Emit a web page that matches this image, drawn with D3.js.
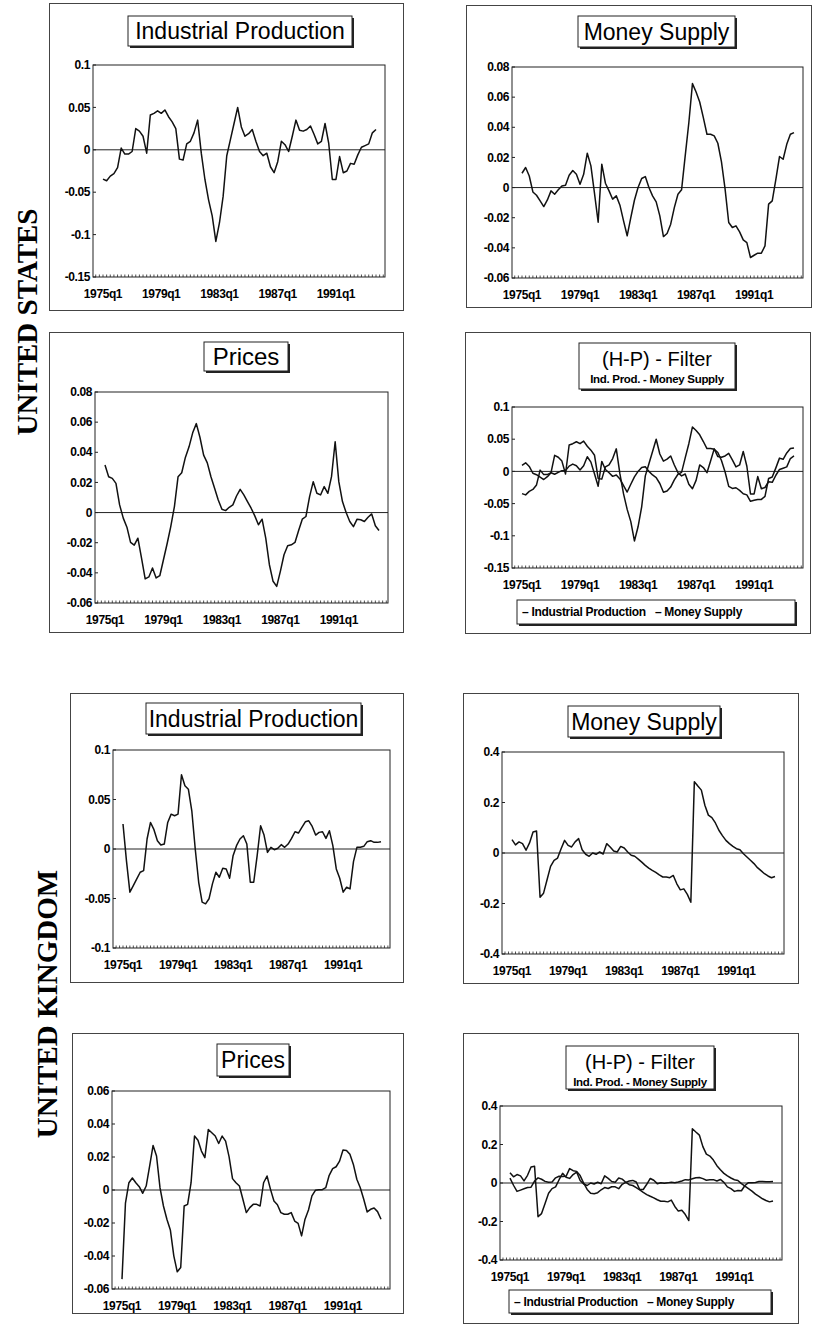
<!DOCTYPE html>
<html>
<head>
<meta charset="utf-8">
<script src="https://cdn.jsdelivr.net/npm/d3@7"></script>
<style>
  body { margin: 0; background: #fff; }
  svg { display: block; }
</style>
</head>
<body>
<div id="chart"></div>
<script>
// Quarterly observations 1975q1 .. 1993q4 (76 quarters)
const quarters = d3.range(1975, 1994).flatMap(y => [1, 2, 3, 4].map(q => y + "q" + q));
const xTickLabels = ["1975q1", "1979q1", "1983q1", "1987q1", "1991q1"];

// United States, H-P filtered cycles
const usIP = [-0.0345, -0.0365, -0.031, -0.028, -0.021, 0.002, -0.005, -0.005, -0.002, 0.025,
  0.022, 0.016, -0.004, 0.041, 0.043, 0.046, 0.043, 0.047, 0.039, 0.033,
  0.025, -0.011, -0.012, 0.007, 0.010, 0.020, 0.035, -0.004, -0.035, -0.059,
  -0.078, -0.108, -0.086, -0.055, -0.007, 0.012, 0.031, 0.050, 0.027, 0.016,
  0.019, 0.024, 0.010, -0.002, -0.007, -0.004, -0.020, -0.027, -0.014, 0.010,
  0.006, -0.002, 0.016, 0.035, 0.023, 0.022, 0.024, 0.028, 0.018, 0.007,
  0.010, 0.031, 0.008, -0.035, -0.035, -0.008, -0.027, -0.025, -0.016, -0.017,
  -0.006, 0.003, 0.005, 0.007, 0.020, 0.024];
const usMS = [0.0095, 0.0133, 0.0077, -0.0029, -0.0051, -0.0088, -0.0126, -0.0082, -0.0022, -0.0044,
  -0.0015, 0.0011, 0.0015, 0.0082, 0.0113, 0.0088, 0.0022, 0.0088, 0.0228, 0.0144,
  -0.004, -0.023, 0.0155, 0.0029, -0.0022, -0.0077, -0.0055, -0.0117, -0.0221, -0.032,
  -0.0199, -0.0084, 0.000, 0.006, 0.0073, 0.0, -0.0055, -0.0095, -0.0188, -0.0325,
  -0.0305, -0.0243, -0.0133, -0.0044, -0.0015, 0.021, 0.043, 0.069, 0.0634, 0.0568,
  0.0464, 0.0354, 0.0354, 0.0343, 0.0294, 0.017, -0.001, -0.0232, -0.0265, -0.0254,
  -0.0294, -0.0347, -0.0365, -0.0464, -0.0449, -0.0435, -0.0435, -0.0387, -0.011, -0.0088,
  0.0055, 0.0206, 0.0188, 0.0287, 0.0354, 0.0365];
const usPrices = [0.0315, 0.0238, 0.0227, 0.0194, 0.0051, -0.0037, -0.0097, -0.0198, -0.0216, -0.017,
  -0.0302, -0.044, -0.0427, -0.0368, -0.0434, -0.0419, -0.0313, -0.0207, -0.0093, 0.004,
  0.0238, 0.0264, 0.0366, 0.0436, 0.0529, 0.059, 0.0498, 0.0381, 0.033, 0.0238,
  0.0161, 0.0084, 0.0022, 0.0013, 0.0035, 0.0051, 0.011, 0.0154, 0.0117, 0.0073,
  0.0029, -0.0022, -0.0081, -0.0044, -0.017, -0.0346, -0.0456, -0.049, -0.039, -0.028,
  -0.022, -0.0214, -0.0198, -0.0119, -0.0044, -0.0026, 0.0106, 0.0205, 0.0128, 0.0117,
  0.0172, 0.0128, 0.0238, 0.047, 0.0205, 0.0073, 0, -0.0059, -0.0093, -0.0044,
  -0.0048, -0.0059, -0.0031, -0.0009, -0.0088, -0.0119];

// United Kingdom
const ukIP = [0.0252, -0.0117, -0.0436, -0.0369, -0.0302, -0.0235, -0.0218, 0.0101, 0.0268, 0.0195,
  0.0084, 0.004, 0.005, 0.0268, 0.0352, 0.0336, 0.0352, 0.075, 0.0638, 0.0604,
  0.0386, 0, -0.0336, -0.0537, -0.0554, -0.0503, -0.0352, -0.0235, -0.0285, -0.0195,
  -0.0201, -0.0295, -0.0067, 0.0034, 0.0101, 0.0134, 0.005, -0.0336, -0.0336, -0.0067,
  0.0235, 0.0141, -0.0034, 0.0017, -0.0007, 0.0007, 0.0044, 0.0017, 0.005, 0.0107,
  0.0174, 0.0161, 0.0218, 0.0275, 0.0285, 0.0228, 0.0141, 0.0168, 0.0174, 0.0107,
  0.0185, 0.0034, -0.0201, -0.0295, -0.0436, -0.0386, -0.0403, -0.0128, 0.0017, 0.0017,
  0.0027, 0.0074, 0.0084, 0.0067, 0.0067, 0.0074];
const ukMS = [0.053, 0.032, 0.044, 0.037, 0.011, 0.040, 0.083, 0.087, -0.175, -0.159,
  -0.106, -0.053, -0.029, -0.020, 0.017, 0.050, 0.030, 0.024, 0.044, 0.057,
  0.013, -0.005, -0.013, 0.000, -0.005, 0.004, -0.004, 0.037, 0.024, 0.008,
  0.004, 0.026, 0.020, 0.004, -0.009, -0.013, -0.024, -0.036, -0.049, -0.060,
  -0.069, -0.077, -0.087, -0.095, -0.095, -0.098, -0.089, -0.122, -0.146, -0.142,
  -0.164, -0.195, 0.282, 0.265, 0.249, 0.189, 0.150, 0.140, 0.119, 0.090,
  0.069, 0.050, 0.037, 0.026, 0.017, 0.013, -0.003, -0.016, -0.029, -0.042,
  -0.058, -0.070, -0.082, -0.091, -0.098, -0.093];
const ukPrices = [-0.054, -0.008, 0.0044, 0.0073, 0.0044, 0.002, -0.002, 0.0024, 0.0145, 0.027,
  0.0206, 0.0014, -0.0097, -0.0177, -0.0242, -0.0399, -0.0496, -0.047, -0.0097, -0.0087,
  0.0044, 0.0327, 0.0302, 0.0236, 0.0196, 0.0367, 0.0347, 0.0327, 0.0282, 0.0327,
  0.0296, 0.0202, 0.0069, 0.0044, 0.0024, -0.0056, -0.0137, -0.0107, -0.0087, -0.0087,
  -0.0097, 0.0044, 0.0085, 0.0004, -0.0067, -0.0089, -0.0137, -0.0147, -0.0147, -0.0137,
  -0.0188, -0.0202, -0.0278, -0.0177, -0.0121, -0.0036, -0.0002, 0.0002, 0.0002, 0.0014,
  0.0089, 0.0129, 0.0141, 0.0175, 0.0242, 0.024, 0.0216, 0.0155, 0.0065, 0.0014,
  -0.0056, -0.0133, -0.0117, -0.0109, -0.0131, -0.0177];

// y-axis ticks
const ticksUSIP = [-0.15, -0.1, -0.05, 0, 0.05, 0.1];
const ticksUSSmall = [-0.06, -0.04, -0.02, 0, 0.02, 0.04, 0.06, 0.08];
const ticksUKIP = [-0.1, -0.05, 0, 0.05, 0.1];
const ticksUKMS = [-0.4, -0.2, 0, 0.2, 0.4];
const ticksUKPrices = [-0.06, -0.04, -0.02, 0, 0.02, 0.04, 0.06];

const hpSubtitle = "Ind. Prod. - Money Supply";
const hpLegend = ["Industrial Production", "Money Supply"];

// layout of the eight panels: [x, y, w, h]
const panels = [
  { box: [49, 3, 354, 307], plot: [93, 65, 292, 212], title: "Industrial Production", tb: [128, 16, 224, 30], fs: 23, ticks: ticksUSIP, series: [usIP] },
  { box: [466, 5, 345, 302], plot: [512, 67, 291, 211], title: "Money Supply", tb: [578, 16, 157, 31], fs: 23, ticks: ticksUSSmall, series: [usMS] },
  { box: [49, 332, 354, 300], plot: [95, 392, 293, 211], title: "Prices", tb: [204, 342, 84, 29], fs: 24, ticks: ticksUSSmall, series: [usPrices] },
  { box: [465, 332, 345, 301], plot: [512, 407, 291, 161], title: "(H-P) - Filter", sub: hpSubtitle, tb: [579, 343, 156, 46], fs: 20, ticks: ticksUSIP, series: [usIP, usMS], legend: [517, 600, 278, 24] },
  { box: [70, 693, 333, 289], plot: [113, 750, 277, 198], title: "Industrial Production", tb: [146, 703, 215, 31], fs: 23, ticks: ticksUKIP, series: [ukIP] },
  { box: [463, 693, 335, 290], plot: [502, 752, 282, 202], title: "Money Supply", tb: [568, 706, 152, 31], fs: 23, ticks: ticksUKMS, series: [ukMS] },
  { box: [72, 1033, 331, 280], plot: [112, 1091, 278, 198], title: "Prices", tb: [217, 1044, 72, 32], fs: 23, ticks: ticksUKPrices, series: [ukPrices] },
  { box: [463, 1033, 335, 290], plot: [500, 1106, 282, 154], title: "(H-P) - Filter", sub: hpSubtitle, tb: [566, 1046, 148, 43], fs: 20, ticks: ticksUKMS, series: [ukIP, ukMS], legend: [509, 1290, 262, 23] }
];

const sans = "'Liberation Sans', Arial, Helvetica, sans-serif";
const fmt = v => String(+v.toFixed(2));

const svg = d3.select("#chart").append("svg")
  .attr("width", 820)
  .attr("height", 1334);

// country labels
svg.append("text")
  .attr("transform", "translate(27,322) rotate(-90)")
  .attr("text-anchor", "middle").attr("dy", "0.35em")
  .style("font-family", "'Liberation Serif', 'Times New Roman', serif")
  .style("font-weight", "bold").style("font-size", "29px")
  .text("UNITED STATES");
svg.append("text")
  .attr("transform", "translate(47,1004) rotate(-90)")
  .attr("text-anchor", "middle").attr("dy", "0.35em")
  .style("font-family", "'Liberation Serif', 'Times New Roman', serif")
  .style("font-weight", "bold").style("font-size", "29px")
  .text("UNITED KINGDOM");

function shadowBox(g, x, y, w, h) {
  g.append("rect").attr("x", x + 2).attr("y", y + 2).attr("width", w).attr("height", h).attr("fill", "#222");
  g.append("rect").attr("x", x).attr("y", y).attr("width", w).attr("height", h)
    .attr("fill", "#fff").attr("stroke", "#222").attr("stroke-width", 1);
}

panels.forEach(p => {
  const g = svg.append("g");
  const [bx, by, bw, bh] = p.box;
  const [px, py, pw, ph] = p.plot;

  // outer frame
  g.append("rect").attr("x", bx + 0.5).attr("y", by + 0.5).attr("width", bw).attr("height", bh)
    .attr("fill", "none").attr("stroke", "#444").attr("stroke-width", 1);

  // title box
  const [tx, ty, tw, th] = p.tb;
  shadowBox(g, tx, ty, tw, th);
  if (p.sub) {
    g.append("text").attr("x", tx + tw / 2).attr("y", ty + 23)
      .attr("text-anchor", "middle")
      .style("font-family", sans).style("font-size", p.fs + "px")
      .text(p.title);
    g.append("text").attr("x", tx + tw / 2).attr("y", ty + 40)
      .attr("text-anchor", "middle")
      .style("font-family", sans).style("font-size", "11.5px").style("font-weight", "bold")
      .style("letter-spacing", "-0.3px")
      .text(p.sub);
  } else {
    g.append("text").attr("x", tx + tw / 2).attr("y", ty + th / 2).attr("dy", "0.36em")
      .attr("text-anchor", "middle")
      .style("font-family", sans).style("font-size", p.fs + "px")
      .text(p.title);
  }

  // scales
  const x = d3.scaleLinear().domain([0, quarters.length - 1]).range([px + 10, px + pw - 9]);
  const y = d3.scaleLinear().domain(d3.extent(p.ticks)).range([py + ph, py]);

  // plot frame
  g.append("rect").attr("x", px).attr("y", py).attr("width", pw).attr("height", ph)
    .attr("fill", "none").attr("stroke", "#222").attr("stroke-width", 1);

  // y ticks (inward) and labels
  g.selectAll(null).data(p.ticks).enter().append("line")
    .attr("x1", px).attr("x2", px + 3)
    .attr("y1", d => y(d)).attr("y2", d => y(d))
    .attr("stroke", "#222");
  g.selectAll(null).data(p.ticks).enter().append("text")
    .attr("x", px - 3).attr("y", d => y(d)).attr("dy", "0.35em")
    .attr("text-anchor", "end")
    .style("font-family", sans).style("font-size", "12px").style("font-weight", "bold")
    .style("letter-spacing", "-0.4px")
    .text(fmt);

  // quarterly minor ticks along the bottom axis
  const minor = d3.range(-2, quarters.length + 2).filter(i => x(i) > px + 1 && x(i) < px + pw - 1);
  g.selectAll(null).data(minor).enter().append("line")
    .attr("x1", d => x(d)).attr("x2", d => x(d))
    .attr("y1", py + ph).attr("y2", py + ph - 2.5)
    .attr("stroke", "#222").attr("stroke-width", 0.8);

  // x labels
  g.selectAll(null).data(xTickLabels).enter().append("text")
    .attr("x", d => x(quarters.indexOf(d))).attr("y", py + ph + 21)
    .attr("text-anchor", "middle")
    .style("font-family", sans).style("font-size", "12px").style("font-weight", "bold")
    .style("letter-spacing", "-0.4px")
    .text(d => d);

  // zero line
  g.append("line").attr("x1", px).attr("x2", px + pw)
    .attr("y1", y(0)).attr("y2", y(0))
    .attr("stroke", "#222").attr("stroke-width", 1);

  // series
  const line = d3.line().x((d, i) => x(i)).y(d => y(d));
  p.series.forEach(s => {
    g.append("path").datum(s).attr("d", line)
      .attr("fill", "none").attr("stroke", "#111").attr("stroke-width", 1.5)
      .attr("stroke-linejoin", "round");
  });

  // legend
  if (p.legend) {
    const [lx, ly, lw, lh] = p.legend;
    shadowBox(g, lx, ly, lw, lh);
    g.append("text").attr("x", lx + 5).attr("y", ly + lh / 2).attr("dy", "0.36em")
      .style("white-space", "pre")
      .style("font-family", sans).style("font-size", "12px").style("font-weight", "bold")
      .style("letter-spacing", "-0.3px")
      .text("\u2013 " + hpLegend[0] + "   \u2013 " + hpLegend[1]);
  }
});
</script>
</body>
</html>
